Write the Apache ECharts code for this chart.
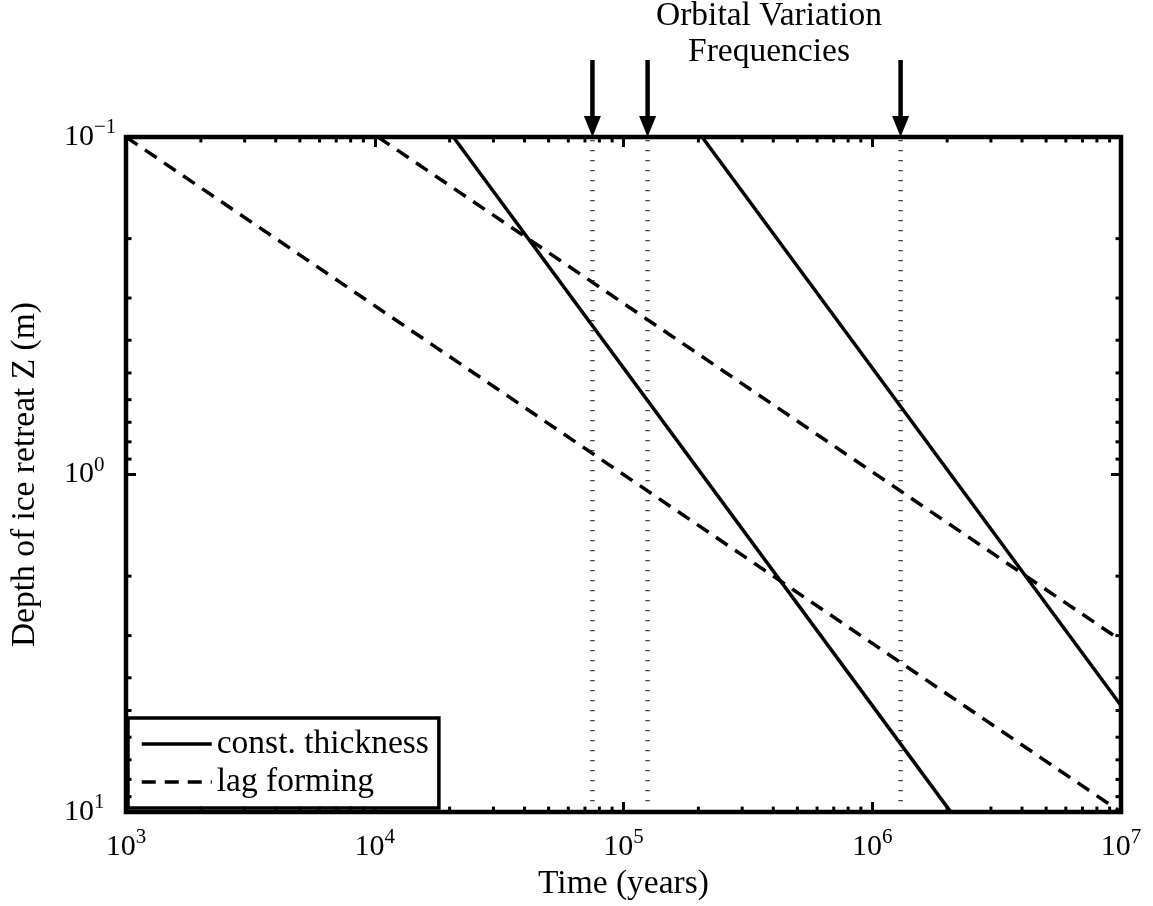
<!DOCTYPE html>
<html>
<head>
<meta charset="utf-8">
<script src="https://cdn.jsdelivr.net/npm/echarts@6/dist/echarts.min.js"></script>
<style>
  html, body { margin: 0; padding: 0; background: #fff; }
  #chart { width: 1153px; height: 906px; }
</style>
</head>
<body>
<div id="chart"></div>
<script>
// Retreat depth of ground ice versus time, log-log axes.
const FONT = 'Liberation Serif';
const TEXT_SIZE = 33.5;

const xTickValues = [1e3, 1e4, 1e5, 1e6, 1e7];   // Time (years)
const yTickValues = [0.1, 1, 10];                // Depth (m)

// constant-thickness model: depth grows linearly with time
const constThicknessEarly = [[2.07e4, 0.1], [2.07e6, 10]];
const constThicknessLate  = [[2.07e5, 0.1], [1e7, 4.83]];
// lag-forming model: depth grows with the square root of time
const lagFormingEarly = [[1e3, 0.1], [1e7, 10]];
const lagFormingLate  = [[1.03e4, 0.1], [1e7, 3.1]];

// orbital forcing periods (years)
const orbitalPeriods = [7.5e4, 1.25e5, 1.3e6];

const seriesNames = ['const. thickness', 'lag forming'];

// minor tick values at 2..9 times each decade
function minorTicks(values) {
  const out = [];
  for (let i = 0; i < values.length - 1; i++) {
    for (let m = 2; m <= 9; m++) out.push(m * values[i]);
  }
  return out;
}
const xMinor = minorTicks(xTickValues);
const yMinor = minorTicks(yTickValues);
const minorData = xMinor.map(v => [v, 1, 0]).concat(yMinor.map(v => [1e4, v, 1]));

function powerLabel(v) {
  const e = Math.round(Math.log10(v));
  return '{b|10}{s|' + (e < 0 ? '\u2212' + (-e) : e) + '}';
}
// x labels: whole "10^n" centred on the tick
const xRich = {
  b: { fontFamily: FONT, fontSize: 30, lineHeight: 40, color: '#000' },
  s: { fontFamily: FONT, fontSize: 21, lineHeight: 11, verticalAlign: 'top', color: '#000' }
};
// y labels: the "10" starts at a fixed x, the exponent hangs to its right
const yRich = {
  b: { fontFamily: FONT, fontSize: 30, lineHeight: 40, color: '#000' },
  s: { fontFamily: FONT, fontSize: 21, lineHeight: 10, verticalAlign: 'top', color: '#000' }
};

const majorTick = { show: true, inside: true, length: 10, lineStyle: { color: '#000', width: 3 } };
const xMin = xTickValues[0], xMax = xTickValues[xTickValues.length - 1];
const yMin = yTickValues[0], yMax = yTickValues[yTickValues.length - 1];

function lineSeries(name, data, dashed) {
  return {
    type: 'line', name: name, data: data,
    xAxisIndex: 0, yAxisIndex: 0,
    symbol: 'none', showSymbol: false, clip: true, z: 3,
    lineStyle: { color: '#000', width: 3.5, type: dashed ? [14, 9] : 'solid' },
    itemStyle: { color: '#000' },
    emphasis: { disabled: true }
  };
}

const chart = echarts.init(document.getElementById('chart'), null, { renderer: 'canvas' });
chart.setOption({
  animation: false,
  backgroundColor: '#fff',
  textStyle: { fontFamily: FONT },
  grid: {
    left: 117, right: 32, top: 137, bottom: 89,
    show: true, borderColor: '#000', borderWidth: 4.5, backgroundColor: 'transparent'
  },
  graphic: [{
    type: 'text', x: 769, y: -2, z: 10,
    style: {
      text: 'Orbital Variation\nFrequencies',
      font: TEXT_SIZE + 'px "Liberation Serif"', fill: '#000',
      align: 'center', verticalAlign: 'top', lineHeight: 36
    }
  }],
  legend: {
    orient: 'vertical', left: 128, top: 718,
    data: seriesNames,
    itemWidth: 70, itemHeight: 14, itemGap: 4,
    padding: [9, 10, 9, 12],
    backgroundColor: '#fff', borderColor: '#000', borderWidth: 3.5, borderRadius: 0,
    textStyle: { fontFamily: FONT, fontSize: TEXT_SIZE, color: '#000' },
    itemStyle: { opacity: 0, borderWidth: 0 },
    lineStyle: { width: 3.5 },
    selectedMode: false
  },
  xAxis: [{
    type: 'log', logBase: 10, min: xMin, max: xMax, position: 'bottom',
    name: 'Time (years)', nameLocation: 'middle', nameGap: 48,
    nameTextStyle: { fontFamily: FONT, fontSize: TEXT_SIZE, color: '#000' },
    axisLine: { show: false }, axisTick: majorTick, splitLine: { show: false },
    axisLabel: { margin: 15, formatter: powerLabel, rich: xRich }
  }, {
    type: 'log', logBase: 10, min: xMin, max: xMax, position: 'top',
    axisLine: { show: false }, axisTick: majorTick, splitLine: { show: false },
    axisLabel: { show: false }
  }],
  yAxis: [{
    type: 'log', logBase: 10, min: yMin, max: yMax, inverse: true, position: 'left',
    name: 'Depth of ice retreat Z (m)', nameLocation: 'middle', nameGap: 84, nameRotate: 90,
    nameTextStyle: { fontFamily: FONT, fontSize: TEXT_SIZE, color: '#000' },
    axisLine: { show: false }, axisTick: majorTick, splitLine: { show: false },
    axisLabel: { margin: 62, align: 'left', formatter: powerLabel, rich: yRich }
  }, {
    type: 'log', logBase: 10, min: yMin, max: yMax, inverse: true, position: 'right',
    axisLine: { show: false }, axisTick: majorTick, splitLine: { show: false },
    axisLabel: { show: false }
  }],
  series: [
    lineSeries(seriesNames[0], constThicknessEarly, false),
    lineSeries(seriesNames[0], constThicknessLate, false),
    lineSeries(seriesNames[1], lagFormingEarly, true),
    lineSeries(seriesNames[1], lagFormingLate, true),
    {
      // orbital periods: dotted guide through the plot and an arrow above it
      type: 'custom', name: 'orbital', xAxisIndex: 0, yAxisIndex: 0,
      data: orbitalPeriods.map(p => [p, 1]), clip: false, z: 2, silent: true,
      renderItem: function (params, api) {
        const x = api.coord([api.value(0), 1])[0];
        const cs = params.coordSys;
        const top = cs.y, bottom = cs.y + cs.height;
        return {
          type: 'group',
          children: [{
            type: 'line',
            shape: { x1: x, y1: top + 3, x2: x, y2: bottom - 3 },
            style: { stroke: '#444', lineWidth: 4.5, lineDash: [1.2, 8.8] }
          }, {
            type: 'line',
            shape: { x1: x, y1: top - 77, x2: x, y2: top - 18 },
            style: { stroke: '#000', lineWidth: 4.5 }
          }, {
            type: 'polygon',
            shape: { points: [[x - 8.5, top - 21], [x + 8.5, top - 21], [x, top]] },
            style: { fill: '#000' }
          }]
        };
      }
    },
    {
      // minor ticks at 2..9 within each decade, on all four sides
      type: 'custom', name: 'minor', xAxisIndex: 0, yAxisIndex: 0,
      data: minorData, clip: false, z: 4, silent: true,
      renderItem: function (params, api) {
        const cs = params.coordSys;
        const len = 5.5;
        const p = api.coord([api.value(0), api.value(1)]);
        const st = { stroke: '#000', lineWidth: 3 };
        if (api.value(2) === 0) {
          const top = cs.y, bottom = cs.y + cs.height;
          return { type: 'group', children: [
            { type: 'line', shape: { x1: p[0], y1: top, x2: p[0], y2: top + len }, style: st },
            { type: 'line', shape: { x1: p[0], y1: bottom, x2: p[0], y2: bottom - len }, style: st }
          ]};
        }
        const left = cs.x, right = cs.x + cs.width;
        return { type: 'group', children: [
          { type: 'line', shape: { x1: left, y1: p[1], x2: left + len, y2: p[1] }, style: st },
          { type: 'line', shape: { x1: right, y1: p[1], x2: right - len, y2: p[1] }, style: st }
        ]};
      }
    }
  ]
});
</script>
</body>
</html>
